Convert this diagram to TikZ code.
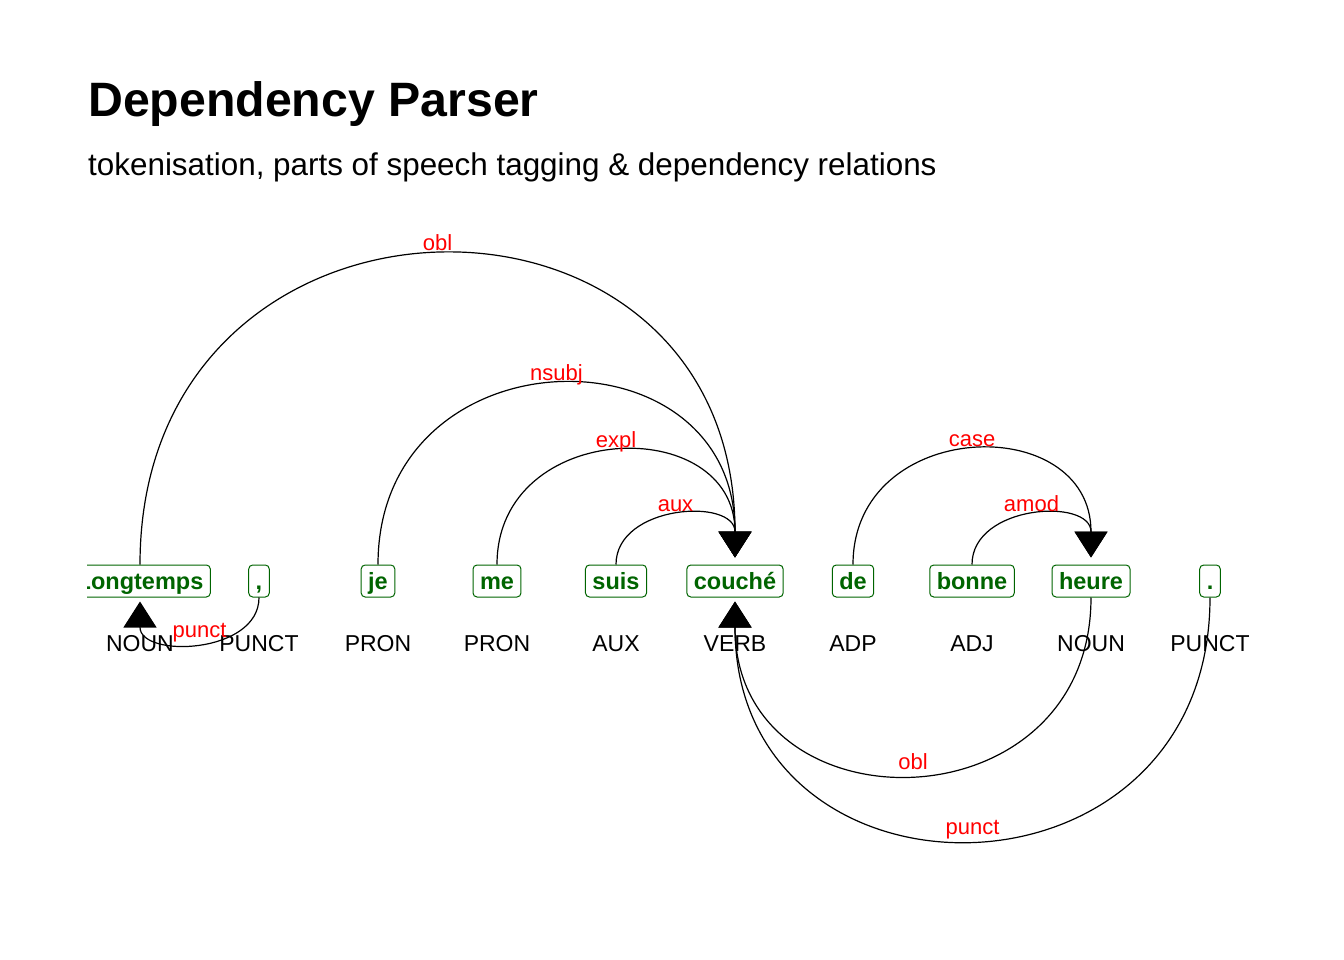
\documentclass[tikz,border=0pt]{standalone}
\usepackage{fontspec}
\setmainfont{Liberation Sans}
\usetikzlibrary{arrows.meta}
\definecolor{tokgreen}{HTML}{006400}
\begin{document}
\begin{tikzpicture}[x=1pt,y=1pt,
  tok/.style={draw=tokgreen, text=tokgreen, line width=1pt, rounded corners=4pt,
    font=\fontsize{23.5}{27}\selectfont\bfseries, inner xsep=7pt, inner ysep=0pt,
    minimum height=32pt, text height=19pt, text depth=3pt, anchor=center},
  posl/.style={font=\fontsize{23}{27}\selectfont, inner sep=0pt, anchor=base},
  dep/.style={line width=1.2pt, -{Triangle[width=33pt,length=26pt]}},
  rel/.style={text=red, font=\fontsize{22}{26}\selectfont, inner sep=0pt, anchor=base, yshift=4.5pt}]
\useasboundingbox (0,0) rectangle (1344,-960);
\fill[white] (0,0) rectangle (1344,-960);

% titles
\node[anchor=base west, inner sep=0pt, font=\fontsize{48.25}{53}\selectfont\bfseries] (title) at (88,-117) {Dependency Parser};
\node[anchor=base west, inner sep=0pt, font=\fontsize{31.4}{36}\selectfont] (subtitle) at (88,-176) {tokenisation, parts of speech tagging \& dependency relations};

% tokens
\begin{scope}
\clip (87,0) rectangle (1344,-960);
\node[tok] (t1) at (140,-581) {Longtemps};
\node[tok] (t2) at (259,-581) {,};
\node[tok] (t3) at (378,-581) {je};
\node[tok] (t4) at (497,-581) {me};
\node[tok] (t5) at (616,-581) {suis};
\node[tok] (t6) at (735,-581) {couché};
\node[tok] (t7) at (853,-581) {de};
\node[tok] (t8) at (972,-581) {bonne};
\node[tok] (t9) at (1091,-581) {heure};
\node[tok] (t10) at (1210,-581) {.};
\end{scope}

% POS tags
\node[posl] (p1) at (140,-651) {NOUN};
\node[posl] (p2) at (259,-651) {PUNCT};
\node[posl] (p3) at (378,-651) {PRON};
\node[posl] (p4) at (497,-651) {PRON};
\node[posl] (p5) at (616,-651) {AUX};
\node[posl] (p6) at (735,-651) {VERB};
\node[posl] (p7) at (853,-651) {ADP};
\node[posl] (p8) at (972,-651) {ADJ};
\node[posl] (p9) at (1091,-651) {NOUN};
\node[posl] (p10) at (1210,-651) {PUNCT};

% upper arcs
\draw[dep] (t1.north) to[out=90,in=90,looseness=1.75] node[rel,midway] (l1) {obl} ([yshift=7pt]t6.north);
\draw[dep] (t3.north) to[out=90,in=90,looseness=1.68] node[rel,midway] (l2) {nsubj} ([yshift=7pt]t6.north);
\draw[dep] (t4.north) to[out=90,in=90,looseness=1.56] node[rel,midway] (l3) {expl} ([yshift=7pt]t6.north);
\draw[dep] (t5.north) to[out=90,in=90,looseness=1.29] node[rel,midway] (l4) {aux} ([yshift=7pt]t6.north);
\draw[dep] (t7.north) to[out=90,in=90,looseness=1.58] node[rel,midway] (l5) {case} ([yshift=7pt]t9.north);
\draw[dep] (t8.north) to[out=90,in=90,looseness=1.29] node[rel,midway] (l6) {amod} ([yshift=7pt]t9.north);

% lower arcs
\draw[dep] (t9.south) to[out=-90,in=-90,looseness=1.67] node[rel,midway] (l7) {obl} ([yshift=-4pt]t6.south);
\draw[dep] (t10.south) to[out=-90,in=-90,looseness=1.72] node[rel,midway] (l8) {punct} ([yshift=-4pt]t6.south);
\draw[dep] (t2.south) to[out=-90,in=-90,looseness=1.22] node[rel,midway] (l9) {punct} ([yshift=-4pt]t1.south);
\end{tikzpicture}
\end{document}
